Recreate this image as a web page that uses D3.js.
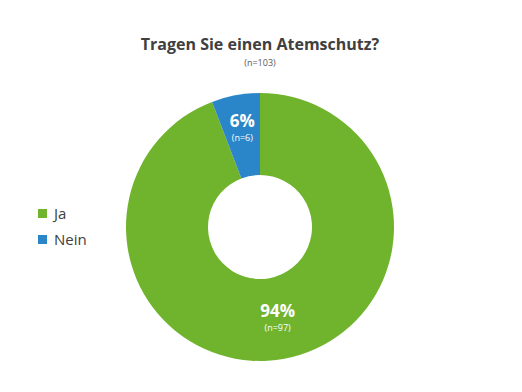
<!DOCTYPE html>
<html>
<head>
<meta charset="utf-8">
<script src="https://cdn.jsdelivr.net/npm/d3@7"></script>
<style>
  body { margin: 0; background: #fff; }
  svg { font-family: "Open Sans", "Noto Sans", sans-serif; }
</style>
</head>
<body>
<div id="chart"></div>
<script>
// chart data
const categories = ['Ja', 'Nein'];
const counts = [97, 6];
const percents = ['94%', '6%'];
const colors = ['#70b42e', '#2a86c8'];
const title = 'Tragen Sie einen Atemschutz?';
const subtitle = '(n=103)';

const width = 522, height = 392;
const cx = 260, cy = 227;
const outerR = 134, innerR = 52;

const svg = d3.select('#chart').append('svg')
    .attr('width', width)
    .attr('height', height);

// title
svg.append('text')
    .attr('x', cx).attr('y', 50)
    .attr('text-anchor', 'middle')
    .attr('font-size', 16)
    .attr('font-weight', 'bold')
    .attr('fill', '#404040')
    .text(title);

svg.append('text')
    .attr('x', cx).attr('y', 66)
    .attr('text-anchor', 'middle')
    .attr('font-size', 9)
    .attr('fill', '#595959')
    .text(subtitle);

const data = categories.map((c, i) => ({ name: c, n: counts[i], pct: percents[i], color: colors[i] }));

const pie = d3.pie().sort(null).value(d => d.n);
const arc = d3.arc().innerRadius(innerR).outerRadius(outerR);

const g = svg.append('g').attr('transform', `translate(${cx},${cy})`);

g.selectAll('path')
    .data(pie(data))
    .enter()
    .append('path')
    .attr('d', arc)
    .attr('fill', d => d.data.color);

// slice labels
const labelArc = d3.arc().innerRadius(88).outerRadius(106);
const labels = g.selectAll('.lbl')
    .data(pie(data))
    .enter()
    .append('g')
    .attr('class', 'lbl')
    .attr('transform', d => `translate(${labelArc.centroid(d)})`);

labels.append('text')
    .attr('text-anchor', 'middle')
    .attr('y', -5)
    .attr('font-size', 17)
    .attr('font-weight', 'bold')
    .attr('fill', '#fff')
    .text(d => d.data.pct);

labels.append('text')
    .attr('text-anchor', 'middle')
    .attr('y', 9)
    .attr('font-size', 9)
    .attr('fill', '#fff')
    .text(d => '(n=' + d.data.n + ')');

// legend
const legend = svg.append('g').attr('transform', 'translate(38,209)');
const item = legend.selectAll('g')
    .data(data)
    .enter()
    .append('g')
    .attr('transform', (d, i) => `translate(0,${i * 26})`);

item.append('rect')
    .attr('width', 9).attr('height', 9)
    .attr('fill', d => d.color);

item.append('text')
    .attr('x', 16).attr('y', 10)
    .attr('font-size', 15)
    .attr('fill', '#404040')
    .text(d => d.name);
</script>
</body>
</html>
